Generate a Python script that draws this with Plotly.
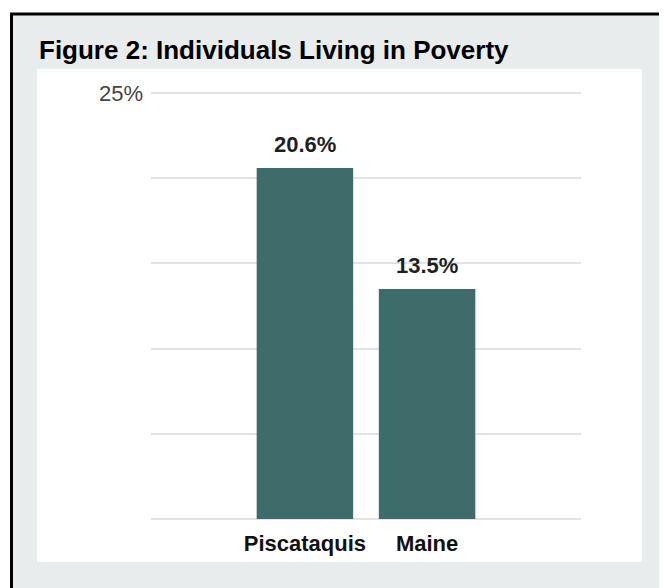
import plotly.graph_objects as go

categories = ["Piscataquis", "Maine"]
values = [20.6, 13.5]
y_tickvals = [0, 5, 10, 15, 20, 25]
y_ticktext = ["", "", "", "", "", "25%"]
y_max = 25.3

OFF = 8  # page body margin
W, H = 667 - OFF, 588 - OFF
L, R, T, B = 143, 86, 80, 69
PW, PH = W - L - R, H - T - B

def px(x):
    return (x - OFF - L) / PW

def py(y):
    return (H - B - (y - OFF)) / PH

BAR = "#3d6c6a"
BG = "#e9ecec"
FONT = "Liberation Sans, Arial, Helvetica, sans-serif"

fig = go.Figure()
fig.add_trace(go.Bar(
    x=categories, y=values, marker=dict(color=BAR, line=dict(width=0)),
    width=0.79, cliponaxis=False, hoverinfo="skip",
))

for c, v in zip(categories, values):
    fig.add_annotation(x=c, y=v, xref="x", yref="y", text=f"<b>{v:.1f}%</b>",
                       showarrow=False, yanchor="bottom", yshift=9,
                       font=dict(family=FONT, size=22, color="#1f1f1f"))

fig.add_annotation(xref="paper", yref="paper", x=px(37), y=py(50),
                   xanchor="left", yanchor="middle", showarrow=False,
                   text="<b>Figure 2: Individuals Living in Poverty</b>",
                   font=dict(family=FONT, size=26, color="#000000"))

fig.update_layout(
    width=W, height=H,
    margin=dict(l=L, r=R, t=T, b=B, pad=0),
    paper_bgcolor="white", plot_bgcolor="rgba(0,0,0,0)",
    showlegend=False,
    shapes=[
        dict(type="rect", xref="paper", yref="paper", layer="below",
             x0=px(11.5), x1=px(662.5), y0=py(620), y1=py(14),
             fillcolor=BG, line=dict(width=0)),
        dict(type="rect", xref="paper", yref="paper", layer="below",
             x0=px(37), x1=px(642), y0=py(562), y1=py(69),
             fillcolor="white", line=dict(width=0)),
        dict(type="rect", xref="paper", yref="paper", layer="above",
             x0=px(11.5), x1=px(662.5), y0=py(620), y1=py(14),
             fillcolor="rgba(0,0,0,0)", line=dict(color="#000000", width=3)),
    ],
    xaxis=dict(range=[-1.26, 2.26], showgrid=False, zeroline=False, showline=False,
               ticks="", ticklabelstandoff=9,
               tickfont=dict(family=FONT, size=22, color="#111111", weight="bold"),
               fixedrange=True),
    yaxis=dict(range=[0, y_max], tickvals=y_tickvals, ticktext=y_ticktext,
               showgrid=True, gridcolor="#e3e3e3", gridwidth=2,
               zeroline=True, zerolinecolor="#e3e3e3", zerolinewidth=2,
               showline=False, ticks="", ticklabelstandoff=7,
               tickfont=dict(family=FONT, size=22, color="#444444"),
               fixedrange=True),
)

fig.write_html("out.html")
